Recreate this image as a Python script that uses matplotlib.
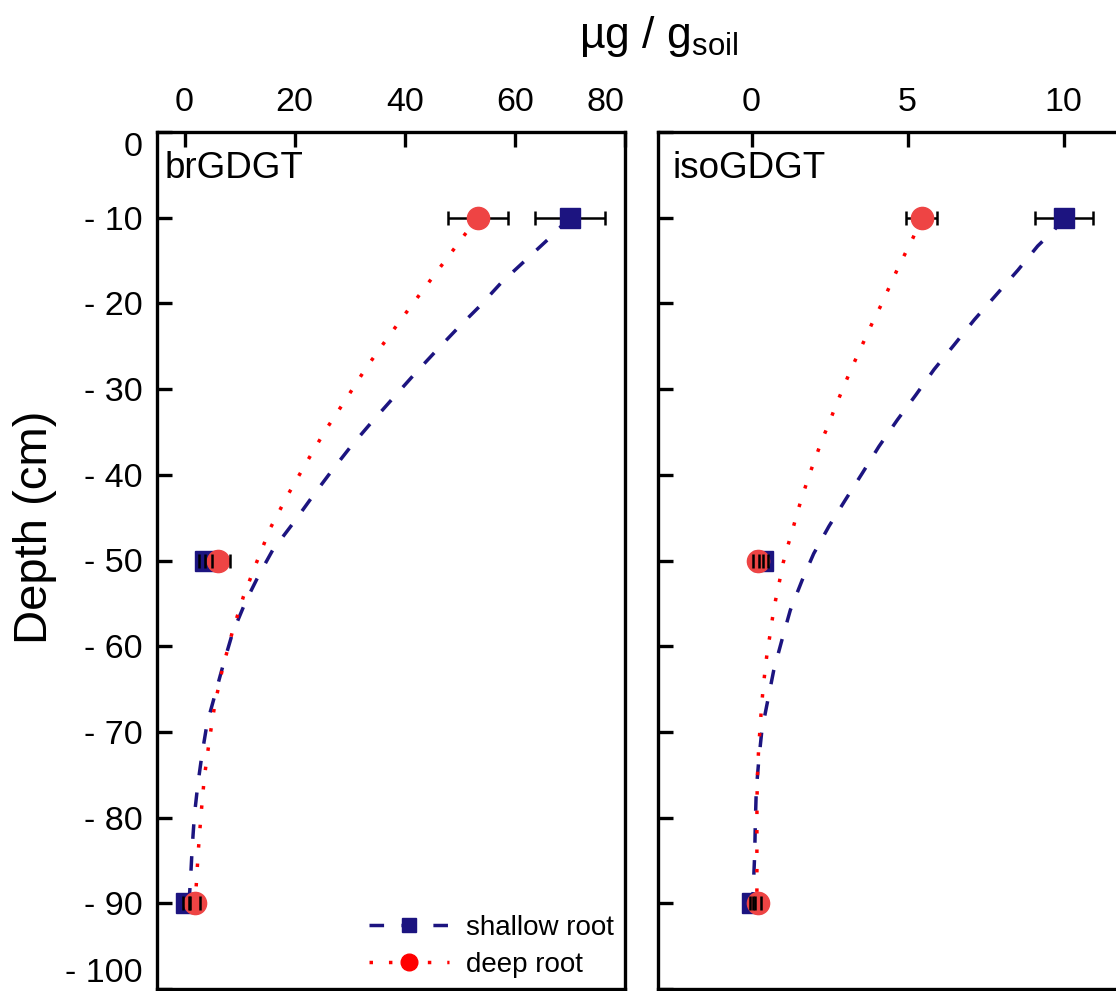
import numpy as np
import matplotlib.pyplot as plt
from matplotlib.lines import Line2D

plt.rcParams['font.family'] = ['Liberation Sans', 'DejaVu Sans']
plt.rcParams['mathtext.fontset'] = 'custom'
plt.rcParams['mathtext.rm'] = 'Liberation Sans'
plt.rcParams['mathtext.it'] = 'Liberation Sans'

# measured points (depth in cm, content in ug/g soil)
depth = [-10, -50, -90]

br_shallow = [70.0, 3.8, 0.3]
br_shallow_err = [6.4, 1.2, 0.5]
br_deep = [53.3, 6.0, 1.9]
br_deep_err = [5.5, 2.2, 0.9]

iso_shallow = [10.0, 0.38, 0.0]
iso_shallow_err = [0.93, 0.15, 0.05]
iso_deep = [5.45, 0.2, 0.2]
iso_deep_err = [0.5, 0.15, 0.1]

# fitted depth profiles
br_shallow_fit_d = [-10, -12.6, -15.1, -17.6, -20.4, -22.9, -25.6, -28.3, -31.1, -34.0, -36.7, -39.4,
                    -42.3, -45.5, -48.8, -51.7, -54.8, -58.5, -62.0, -65.5, -69.0, -72.5, -76.2,
                    -79.7, -83.4, -87.1, -90]
br_shallow_fit = [70.0, 65.9, 61.7, 57.5, 53.5, 49.6, 45.6, 41.7, 37.8, 33.8, 30.2, 26.9,
                  23.5, 19.9, 16.0, 13.5, 11.1, 8.7, 7.1, 5.6, 4.1, 3.2, 2.4,
                  1.8, 1.4, 1.1, 0.8]
br_deep_fit_d = [-10, -11.8, -13.6, -17.0, -20.6, -24.0, -27.6, -31.2, -34.8, -38.5, -42.3, -46.2,
                 -50.2, -54.2, -58.3, -62.6, -66.8, -71.0, -75.3, -79.6, -83.9, -88.2, -90]
br_deep_fit = [53.3, 51.1, 49.0, 45.0, 40.8, 36.9, 32.9, 29.3, 25.6, 22.2, 18.8, 15.6,
               13.1, 10.7, 8.7, 6.9, 5.5, 4.5, 3.6, 3.0, 2.5, 2.1, 1.9]
iso_shallow_fit_d = [-10, -11.4, -13.3, -16.1, -19.0, -21.9, -24.8, -27.7, -30.7, -33.6, -36.7, -39.8,
                     -42.9, -46.0, -49.2, -52.3, -55.8, -59.3, -62.8, -66.3, -69.8, -73.3, -76.8,
                     -80.5, -84.2, -87.7, -90]
iso_shallow_fit = [10.0, 9.71, 9.17, 8.54, 7.84, 7.14, 6.50, 5.85, 5.26, 4.67, 4.08, 3.55,
                   3.01, 2.48, 1.99, 1.62, 1.24, 0.97, 0.71, 0.52, 0.33, 0.23, 0.15,
                   0.12, 0.10, 0.06, 0.03]
iso_deep_fit_d = [-10, -12.3, -14.2, -16.2, -18.2, -20.2, -22.1, -24.1, -26.0, -28.0, -30.0, -32.0,
                  -34.0, -35.9, -38.0, -40.0, -42.0, -44.1, -46.2, -48.3, -50.3, -52.5, -54.6,
                  -56.7, -58.9, -61.0, -63.2, -65.3, -67.5, -69.6, -71.7, -73.9, -76.0, -80.0, -90]
iso_deep_fit = [5.45, 5.18, 4.92, 4.65, 4.40, 4.15, 3.89, 3.64, 3.40, 3.15, 2.92, 2.69,
                2.48, 2.26, 2.05, 1.85, 1.67, 1.49, 1.33, 1.16, 1.01, 0.89, 0.77,
                0.67, 0.58, 0.49, 0.42, 0.36, 0.31, 0.27, 0.23, 0.20, 0.18, 0.17, 0.17]

yticks = [0, -10, -20, -30, -40, -50, -60, -70, -80, -90, -100]
ytick_labels = ['0', '- 10', '- 20', '- 30', '- 40', '- 50', '- 60', '- 70', '- 80', '- 90', '- 100']

navy = '#1c1480'
red_line = '#ff0000'
red_mark = '#ee4444'
lw = 2.5
dash = (0, (4.2, 5.0))
dots = (0, (1, 4.6))

W, H = 1116, 991
fig = plt.figure(figsize=(W / 100, H / 100), dpi=100)
ax1 = fig.add_axes([157 / W, 2 / H, 468 / W, 857 / H])
ax2 = fig.add_axes([658 / W, 2 / H, 468 / W, 857 / H])


def panel(ax, sh, sh_err, dp, dp_err, sh_fd, sh_f, dp_fd, dp_f, xlim, xticks, name):
    ax.plot(sh_f, sh_fd, color=navy, lw=lw, ls=dash, zorder=2)
    ax.plot(dp_f, dp_fd, color=red_line, lw=lw, ls=dots, zorder=2)
    for x, xe, c, m, ms in [(sh, sh_err, navy, 's', 13.8), (dp, dp_err, red_mark, 'o', 16)]:
        ax.plot(x, depth, ls='none', marker=m, ms=ms, color=c, mec=c, zorder=3)
        _, caps, bars = ax.errorbar(x, depth, xerr=xe, fmt='none', ecolor='black',
                                    elinewidth=1.8, capsize=5, capthick=1.8)
        for cl in caps:
            cl.set_zorder(5)
        for b in bars:
            b.set_zorder(2.5)
    ax.set_xlim(xlim)
    ax.set_ylim(-100, 0)
    ax.set_xticks(xticks)
    ax.set_yticks(yticks)
    ax.xaxis.tick_top()
    ax.tick_params(axis='both', direction='in', length=11, width=2.4, labelsize=24.5)
    ax.tick_params(axis='x', pad=10)
    ax.tick_params(axis='y', pad=10, right=False)
    for s in ax.spines.values():
        s.set_linewidth(2.4)
    ax.text(0.017 if name == 'brGDGT' else 0.03, 0.946, name, transform=ax.transAxes,
            fontsize=26.5, va='baseline', ha='left')


panel(ax1, br_shallow, br_shallow_err, br_deep, br_deep_err,
      br_shallow_fit_d, br_shallow_fit, br_deep_fit_d, br_deep_fit,
      (-5, 80), [0, 20, 40, 60, 80], 'brGDGT')
ax1.set_yticklabels(ytick_labels)
# keep the end labels inside the frame
ylabs = ax1.get_yticklabels()
ylabs[0].set_va('top')
ylabs[-1].set_va('bottom')
ax1.get_xticklabels()[-1].set_ha('right')

panel(ax2, iso_shallow, iso_shallow_err, iso_deep, iso_deep_err,
      iso_shallow_fit_d, iso_shallow_fit, iso_deep_fit_d, iso_deep_fit,
      (-3, 12), [0, 5, 10], 'isoGDGT')
ax2.set_yticklabels([])

handles = [Line2D([], [], color=navy, lw=lw, ls=dash, marker='s', ms=10),
           Line2D([], [], color=red_line, lw=lw, ls=dots, marker='o', ms=12)]
ax1.legend(handles, ['shallow root', 'deep root'], loc='lower right', frameon=False,
           fontsize=20, handlelength=2.9, handletextpad=0.6, labelspacing=0.4,
           borderaxespad=0.0)

fig.text(35 / W, 1 - 527 / H, 'Depth (cm)', rotation=90, fontsize=34, ha='center', va='center')
fig.text(659 / W, 1 - 48 / H, r'$\mathregular{µg\ /\ g_{soil}}$', fontsize=32,
         ha='center', va='baseline')

fig.savefig('out.png', dpi=100)
